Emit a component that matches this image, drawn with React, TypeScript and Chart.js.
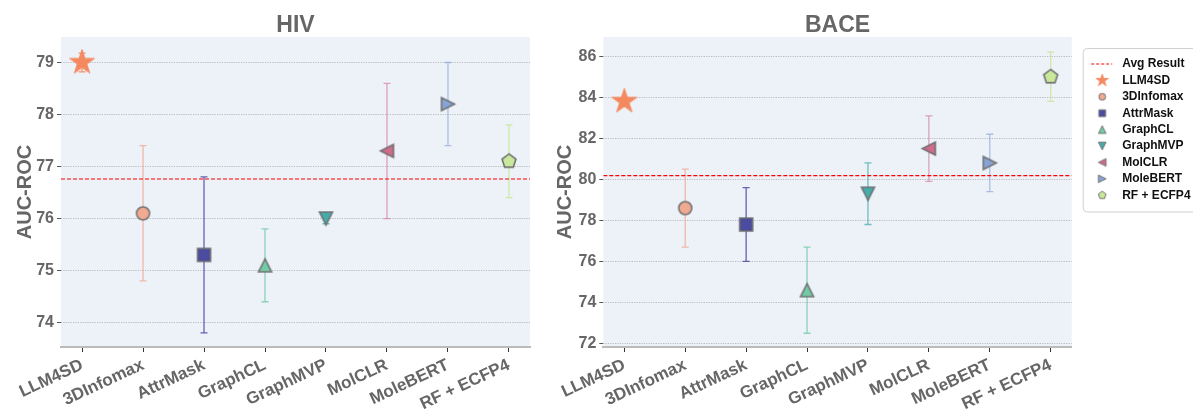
import React, { useEffect, useRef } from 'react';
import { Chart, registerables } from 'chart.js';

Chart.register(...registerables);

// ---------------- data ----------------
const methods = ['LLM4SD', '3DInfomax', 'AttrMask', 'GraphCL', 'GraphMVP', 'MolCLR', 'MoleBERT', 'RF + ECFP4'];
const hivMean = [79.0, 76.1, 75.3, 75.1, 76.0, 77.3, 78.2, 77.1];
const hivErr = [0.18, 1.3, 1.5, 0.7, 0.1, 1.3, 0.8, 0.7];
const baceMean = [83.8, 78.6, 77.8, 74.6, 79.3, 81.5, 80.8, 85.0];
const baceErr = [0.2, 1.9, 1.8, 2.1, 1.5, 1.6, 1.4, 1.2];
const hivAvg = 76.76;
const baceAvg = 80.18;
const hivTicks = [74, 75, 76, 77, 78, 79];
const baceTicks = [72, 74, 76, 78, 80, 82, 84, 86];
const avgLabel = 'Avg Result';

const markerShapes = ['star', 'circle', 'square', 'triUp', 'triDown', 'triLeft', 'triRight', 'pentagon'];
const markerFill = ['#F4895F', '#F0AA92', '#4B4BA0', '#72CBA5', '#45ACAA', '#D06B8C', '#86A5D6', '#C8E89B'];
const errColors = [
  'rgba(244,137,95,0.9)',
  'rgba(240,170,146,0.8)',
  'rgba(75,75,160,0.85)',
  'rgba(114,203,165,0.8)',
  'rgba(69,172,170,0.75)',
  'rgba(208,107,140,0.6)',
  'rgba(134,165,214,0.65)',
  'rgba(200,232,155,0.9)',
];

const FONT = '"Liberation Sans", Arial, Helvetica, sans-serif';
Chart.defaults.font.family = FONT;

// ---------------- marker drawing ----------------
function shapePath(ctx: CanvasRenderingContext2D, shape: string, cx: number, cy: number, r: number) {
  ctx.beginPath();
  if (shape === 'circle') {
    ctx.arc(cx, cy, r, 0, Math.PI * 2);
  } else if (shape === 'square') {
    ctx.rect(cx - r, cy - r, 2 * r, 2 * r);
  } else if (shape === 'star') {
    for (let k = 0; k < 10; k++) {
      const rr = k % 2 === 0 ? r : r * 0.382;
      const a = -Math.PI / 2 + (k * Math.PI) / 5;
      const px = cx + rr * Math.cos(a);
      const py = cy + rr * Math.sin(a);
      if (k === 0) ctx.moveTo(px, py);
      else ctx.lineTo(px, py);
    }
  } else if (shape === 'pentagon') {
    for (let k = 0; k < 5; k++) {
      const a = -Math.PI / 2 + (k * 2 * Math.PI) / 5;
      const px = cx + r * Math.cos(a);
      const py = cy + r * Math.sin(a);
      if (k === 0) ctx.moveTo(px, py);
      else ctx.lineTo(px, py);
    }
  } else {
    let pts: number[][] = [];
    if (shape === 'triUp') pts = [[0, -1], [-1, 1], [1, 1]];
    if (shape === 'triDown') pts = [[0, 1], [-1, -1], [1, -1]];
    if (shape === 'triLeft') pts = [[-1, 0], [1, -1], [1, 1]];
    if (shape === 'triRight') pts = [[1, 0], [-1, -1], [-1, 1]];
    pts.forEach((p, k) => {
      const px = cx + p[0] * r;
      const py = cy + p[1] * r;
      if (k === 0) ctx.moveTo(px, py);
      else ctx.lineTo(px, py);
    });
  }
  ctx.closePath();
}

function makeMarker(shape: string, r: number, fill: string, stroke: string, lw: number) {
  const size = Math.ceil(2 * (r + lw)) + 2;
  const c = document.createElement('canvas');
  c.width = size;
  c.height = size;
  const ctx = c.getContext('2d') as CanvasRenderingContext2D;
  shapePath(ctx, shape, size / 2, size / 2, r);
  ctx.fillStyle = fill;
  ctx.fill();
  ctx.lineWidth = lw;
  ctx.lineJoin = 'miter';
  ctx.strokeStyle = stroke;
  ctx.stroke();
  return c;
}

const markerR: Record<string, number> = {
  star: 13, circle: 6.5, square: 6.5, triUp: 6.5, triDown: 6.5, triLeft: 6.5, triRight: 6.5, pentagon: 7.3,
};
const legendR: Record<string, number> = {
  star: 6.5, circle: 3.4, square: 3.4, triUp: 3.8, triDown: 3.8, triLeft: 3.8, triRight: 3.8, pentagon: 4,
};
const EDGE = 'rgba(110,110,110,0.95)';

// ---------------- plugins ----------------
const bgPlugin = {
  id: 'plotBg',
  beforeDraw(chart: any) {
    const { ctx, chartArea } = chart;
    ctx.save();
    ctx.fillStyle = '#EDF1F8';
    ctx.fillRect(chartArea.left, chartArea.top, chartArea.right - chartArea.left, chartArea.bottom - chartArea.top);
    ctx.restore();
  },
};

const errorBarPlugin = {
  id: 'errorBars',
  beforeDatasetsDraw(chart: any, _args: any, opts: any) {
    if (!opts || !opts.means) return;
    const { ctx, scales } = chart;
    ctx.save();
    ctx.lineWidth = 1.3;
    opts.means.forEach((m: number, i: number) => {
      const e = opts.errs[i];
      const x = scales.x.getPixelForValue(i);
      const y1 = scales.y.getPixelForValue(m - e);
      const y2 = scales.y.getPixelForValue(m + e);
      ctx.strokeStyle = opts.colors[i];
      ctx.beginPath();
      ctx.moveTo(x, y1);
      ctx.lineTo(x, y2);
      ctx.moveTo(x - 3.5, y1);
      ctx.lineTo(x + 3.5, y1);
      ctx.moveTo(x - 3.5, y2);
      ctx.lineTo(x + 3.5, y2);
      ctx.stroke();
    });
    ctx.restore();
  },
};

const titlePlugin = {
  id: 'panelTitle',
  afterDraw(chart: any, _args: any, opts: any) {
    if (!opts || !opts.text) return;
    const { ctx, chartArea } = chart;
    ctx.save();
    ctx.font = `bold 23px ${FONT}`;
    ctx.fillStyle = '#666666';
    ctx.textAlign = 'center';
    ctx.textBaseline = 'alphabetic';
    ctx.fillText(opts.text, (chartArea.left + chartArea.right) / 2, 32);
    ctx.restore();
  },
};

const legendPlugin = {
  id: 'sideLegend',
  afterDraw(chart: any, _args: any, opts: any) {
    if (!opts || !opts.show) return;
    const { ctx, chartArea } = chart;
    const bx = chartArea.right + 11.5;
    const by = 48.5;
    ctx.save();
    ctx.beginPath();
    (ctx as any).roundRect(bx, by, 130, 163.5, 4);
    ctx.fillStyle = 'rgba(255,255,255,0.9)';
    ctx.fill();
    ctx.strokeStyle = '#D0D0D0';
    ctx.lineWidth = 1;
    ctx.stroke();

    const mx = bx + 19;
    const tx = bx + 39;
    const row0 = 64;
    const step = 16.4;
    ctx.font = `bold 12px ${FONT}`;
    ctx.fillStyle = '#111';
    ctx.textBaseline = 'middle';
    ctx.textAlign = 'left';
    ctx.save();
    ctx.strokeStyle = '#FF0000';
    ctx.lineWidth = 1.2;
    ctx.setLineDash([3, 2]);
    ctx.beginPath();
    ctx.moveTo(bx + 8, row0);
    ctx.lineTo(bx + 29, row0);
    ctx.stroke();
    ctx.restore();
    ctx.fillText(avgLabel, tx, row0);
    methods.forEach((name, i) => {
      const y = row0 + step * (i + 1);
      const img = opts.images[i];
      ctx.drawImage(img, mx - img.width / 2, y - img.height / 2);
      ctx.fillStyle = '#111';
      ctx.fillText(name, tx, y);
    });
    ctx.restore();
  },
};

// ---------------- chart builder ----------------
function buildConfig(
  title: string,
  means: number[],
  errs: number[],
  avg: number,
  ticks: number[],
  yMin: number,
  yMax: number,
  yWidth: number,
  padRight: number,
  showLegend: boolean,
) {
  const xMin = -0.345;
  const xMax = 7.345;
  const datasets: any[] = [];
  methods.forEach((name, i) => {
    const shape = markerShapes[i];
    const stroke = shape === 'star' ? markerFill[i] : EDGE;
    datasets.push({
      type: 'scatter',
      label: name,
      data: [{ x: i, y: means[i] }],
      pointStyle: makeMarker(shape, markerR[shape], markerFill[i], stroke, shape === 'star' ? 1 : 1.6),
      pointRadius: 5,
    });
  });
  datasets.push({
    type: 'line',
    label: avgLabel,
    data: [
      { x: xMin, y: avg },
      { x: xMax, y: avg },
    ],
    borderColor: '#FF0000',
    borderWidth: 1.2,
    borderDash: [4, 2],
    pointRadius: 0,
    fill: false,
  });
  const legendImages = methods.map((_, i) => {
    const shape = markerShapes[i];
    const stroke = shape === 'star' ? markerFill[i] : EDGE;
    return makeMarker(shape, legendR[shape], markerFill[i], stroke, shape === 'star' ? 0.8 : 1);
  });

  return {
    type: 'scatter',
    data: { datasets },
    options: {
      animation: false,
      responsive: false,
      maintainAspectRatio: false,
      layout: { padding: { top: 37, left: 0, right: padRight, bottom: 0 } },
      plugins: {
        legend: { display: false },
        tooltip: { enabled: false },
        title: { display: false },
        errorBars: { means, errs, colors: errColors },
        panelTitle: { text: title },
        sideLegend: { show: showLegend, images: legendImages },
      },
      scales: {
        x: {
          type: 'linear',
          min: xMin,
          max: xMax,
          afterBuildTicks: (s: any) => {
            s.ticks = methods.map((_, i) => ({ value: i }));
          },
          afterFit: (s: any) => {
            s.height = 62;
          },
          ticks: {
            callback: (v: any) => methods[Math.round(v)],
            autoSkip: false,
            minRotation: 25,
            maxRotation: 25,
            font: { size: 17, weight: 'bold' },
            color: '#666666',
            padding: 3,
          },
          grid: {
            display: true,
            drawOnChartArea: false,
            drawTicks: true,
            tickLength: 5,
            tickColor: '#333333',
            tickWidth: 1,
          },
          border: { display: true, color: '#BBBBBB', width: 2 },
        },
        y: {
          type: 'linear',
          min: yMin,
          max: yMax,
          afterBuildTicks: (s: any) => {
            s.ticks = ticks.map((v) => ({ value: v }));
          },
          afterFit: (s: any) => {
            s.width = yWidth;
          },
          ticks: {
            font: { size: 16, weight: 'bold' },
            color: '#666666',
            padding: 3,
            callback: (v: any) => String(v),
          },
          grid: {
            color: 'rgba(150,150,150,0.6)',
            lineWidth: 1,
            drawTicks: true,
            tickLength: 4,
            tickColor: '#555555',
            tickBorderDash: [],
          },
          border: { display: false, dash: [1.2, 1.2] },
          title: {
            display: true,
            text: 'AUC-ROC',
            font: { size: 20, weight: 'bold' },
            color: '#666666',
            padding: { top: 13, bottom: 0 },
          },
        },
      },
    },
    plugins: [bgPlugin, errorBarPlugin, titlePlugin, legendPlugin],
  };
}

function Panel(props: { cfg: () => any; left: number; width: number }) {
  const ref = useRef<HTMLCanvasElement | null>(null);
  useEffect(() => {
    if (!ref.current) return;
    const chart = new Chart(ref.current, props.cfg());
    return () => chart.destroy();
  }, []);
  return (
    <canvas
      ref={ref}
      width={props.width}
      height={409}
      style={{ position: 'absolute', left: props.left, top: 0, width: props.width, height: 409 }}
    />
  );
}

export default function App() {
  return (
    <div style={{ position: 'absolute', left: 0, top: 0, width: 1193, height: 409, background: '#fff' }}>
      <Panel
        left={0}
        width={540}
        cfg={() => buildConfig('HIV', hivMean, hivErr, hivAvg, hivTicks, 73.53, 79.49, 61, 10, false)}
      />
      <Panel
        left={540}
        width={653}
        cfg={() => buildConfig('BACE', baceMean, baceErr, baceAvg, baceTicks, 71.83, 86.94, 63.3, 121.3, true)}
      />
    </div>
  );
}
